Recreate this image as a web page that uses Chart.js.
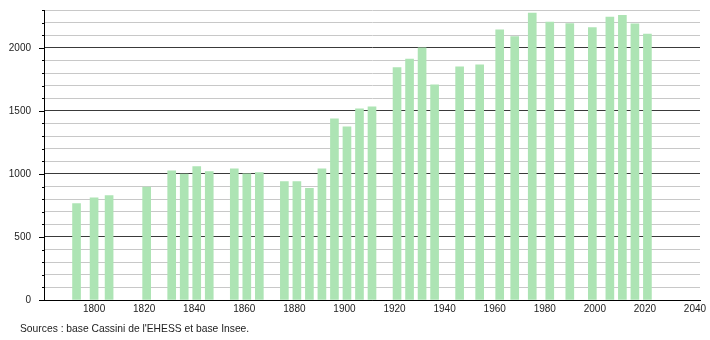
<!DOCTYPE html>
<html lang="fr">
<head>
<meta charset="UTF-8" />
<title>Population</title>
<script src="https://cdn.jsdelivr.net/npm/chart.js"></script>
<style>
  body {
    margin: 0;
    padding: 0;
    background: #ffffff;
    font-family: "Liberation Sans", Arial, sans-serif;
  }
  .wrap {
    position: relative;
    width: 710px;
    height: 340px;
  }
  .source {
    position: absolute;
    left: 20px;
    top: 323px;
    font-size: 10.3px;
    line-height: 12px;
    color: #222;
    white-space: nowrap;
  }
</style>
</head>
<body>
<div class="wrap">
  <canvas id="chart" width="710" height="340"></canvas>
  <div class="source">Sources : base Cassini de l'EHESS et base Insee.</div>
</div>

<script>
  // census years and population
  const years = [1793, 1800, 1806, 1821, 1831, 1836, 1841, 1846, 1856, 1861, 1866,
    1876, 1881, 1886, 1891, 1896, 1901, 1906, 1911, 1921, 1926, 1931, 1936,
    1946, 1954, 1962, 1968, 1975, 1982, 1990, 1999, 2006, 2011, 2016, 2021];
  const population = [765, 810, 828, 895, 1024, 998, 1058, 1018, 1040, 1000, 1010,
    939, 939, 886, 1040, 1437, 1373, 1516, 1532, 1844, 1910, 2000, 1706,
    1850, 1865, 2143, 2090, 2275, 2204, 2193, 2161, 2244, 2257, 2190, 2109];
  const yLabels = [0, 500, 1000, 1500, 2000];
  const xLabels = [1800, 1820, 1840, 1860, 1880, 1900, 1920, 1940, 1960, 1980, 2000, 2020, 2040];

  const points = years.map((y, i) => ({ x: y, y: population[i] }));

  // small ticks on the y axis: long ones at labelled values, short ones elsewhere
  const yTickMarks = {
    id: "yTickMarks",
    afterDraw(chart) {
      const ctx = chart.ctx;
      const ys = chart.scales.y;
      ctx.save();
      ctx.strokeStyle = "#000";
      ctx.lineWidth = 1;
      ys.ticks.forEach((t) => {
        const py = Math.round(ys.getPixelForValue(t.value)) + 0.5;
        const len = yLabels.includes(t.value) ? 5 : 2;
        ctx.beginPath();
        ctx.moveTo(ys.right - len, py);
        ctx.lineTo(ys.right, py);
        ctx.stroke();
      });
      ctx.restore();
    },
  };

  new Chart(document.getElementById("chart"), {
    type: "bar",
    data: {
      datasets: [
        {
          data: points,
          backgroundColor: "rgb(173,228,180)",
          barThickness: 8,
        },
      ],
    },
    options: {
      responsive: false,
      animation: false,
      layout: { padding: { left: 0, right: 10, top: 10, bottom: 0 } },
      plugins: {
        legend: { display: false },
        tooltip: { enabled: false },
      },
      scales: {
        x: {
          type: "linear",
          offset: false,
          min: 1780,
          max: 2042,
          grid: { display: false, drawTicks: false, offset: false },
          border: { display: true, color: "#000", width: 1 },
          ticks: {
            stepSize: 20,
            includeBounds: false,
            autoSkip: false,
            maxRotation: 0,
            padding: 3,
            color: "#222",
            font: { family: "'Liberation Sans', Arial, sans-serif", size: 10 },
            callback: (v) => (xLabels.includes(v) ? String(v) : ""),
          },
          afterFit: (s) => {
            s.height = 40;
            s.paddingLeft = 0;
            s.paddingRight = 0;
          },
        },
        y: {
          min: 0,
          max: 2300,
          grid: {
            drawTicks: false,
            color: (c) => (c.tick.value === 0 ? "#000" : yLabels.includes(c.tick.value) ? "#3a3a3a" : "#c8c8c8"),
            lineWidth: 1,
          },
          border: { display: true, color: "#000", width: 1 },
          ticks: {
            stepSize: 100,
            autoSkip: false,
            padding: 13,
            color: "#222",
            font: { family: "'Liberation Sans', Arial, sans-serif", size: 10 },
            callback: (v) => (yLabels.includes(v) ? String(v) : ""),
          },
          afterFit: (s) => {
            s.width = 44;
            s.paddingTop = 0;
            s.paddingBottom = 0;
          },
        },
      },
    },
    plugins: [yTickMarks],
  });
</script>
</body>
</html>
